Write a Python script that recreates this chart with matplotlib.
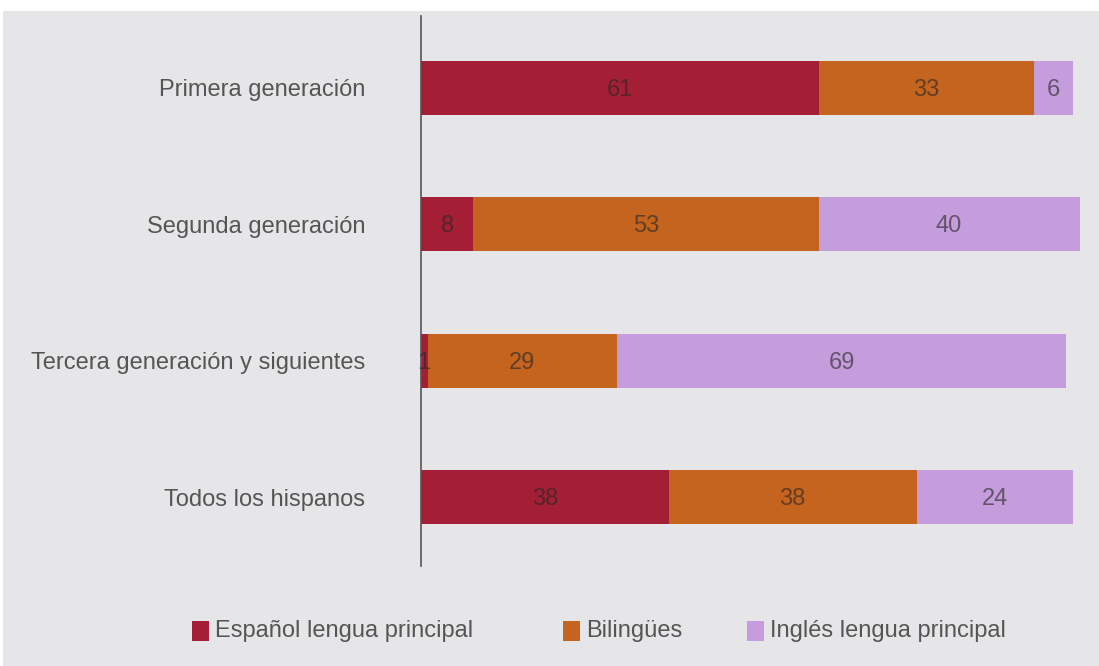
import matplotlib
matplotlib.use("Agg")
import matplotlib.pyplot as plt
from matplotlib.patches import Rectangle

plt.rcParams['font.family'] = ['Liberation Sans', 'DejaVu Sans']

categories = ["Primera generación", "Segunda generación",
              "Tercera generación y siguientes", "Todos los hispanos"]
series_names = ["Español lengua principal", "Bilingües", "Inglés lengua principal"]
espanol = [61, 8, 1, 38]
bilingues = [33, 53, 29, 38]
ingles = [6, 40, 69, 24]
series_values = [espanol, bilingues, ingles]
colors = ["#a41f35", "#c4641f", "#c59ddc"]

BG = "#e6e6e8"
FS = 17

fig = plt.figure(figsize=(10.99, 6.66), dpi=100)
fig.patch.set_facecolor("white")
# grey panel behind everything
fig.patches.append(Rectangle((3 / 1099, 0), 1, 1 - 11 / 666, transform=fig.transFigure,
                             facecolor=BG, edgecolor="none", zorder=-5))

ax = fig.add_axes([421 / 1099, 1 - 566 / 666, 669 / 1099, 550 / 666])
ax.set_facecolor("none")
ax.set_zorder(2)
ax.set_xlim(0, 669 / 6.52)
ax.set_ylim(3.505, -0.524)

ypos = list(range(len(categories)))
left = [0] * len(categories)
for vals, col in zip(series_values, colors):
    bars = ax.barh(ypos, vals, left=left, height=0.396, color=col,
                   edgecolor="none", zorder=2)
    for b, v in zip(bars, vals):
        ax.text(b.get_x() + b.get_width() / 2, b.get_y() + b.get_height() / 2 + 0.015,
                str(v), ha="center", va="center", fontsize=FS,
                color="#262626", alpha=0.62, zorder=3)
    left = [l + v for l, v in zip(left, vals)]

for s in ["top", "right", "bottom"]:
    ax.spines[s].set_visible(False)
ax.spines["left"].set_color("#555555")
ax.spines["left"].set_linewidth(1.2)
ax.set_xticks([])
ax.set_yticks(ypos)
ax.set_yticklabels(categories, fontsize=FS, color="#555555")
ax.tick_params(axis="y", length=0, pad=40)

# legend along the bottom
legend_x = [192, 563, 747]
for name, col, x in zip(series_names, colors, legend_x):
    fig.patches.append(Rectangle((x / 1099, 1 - 641 / 666), 17 / 1099, 20 / 666,
                                 transform=fig.transFigure, facecolor=col,
                                 edgecolor="none"))
    fig.text((x + 23) / 1099, 1 - 631 / 666, name, ha="left", va="center",
             fontsize=FS, color="#555555")

fig.savefig("out.png", dpi=100)
